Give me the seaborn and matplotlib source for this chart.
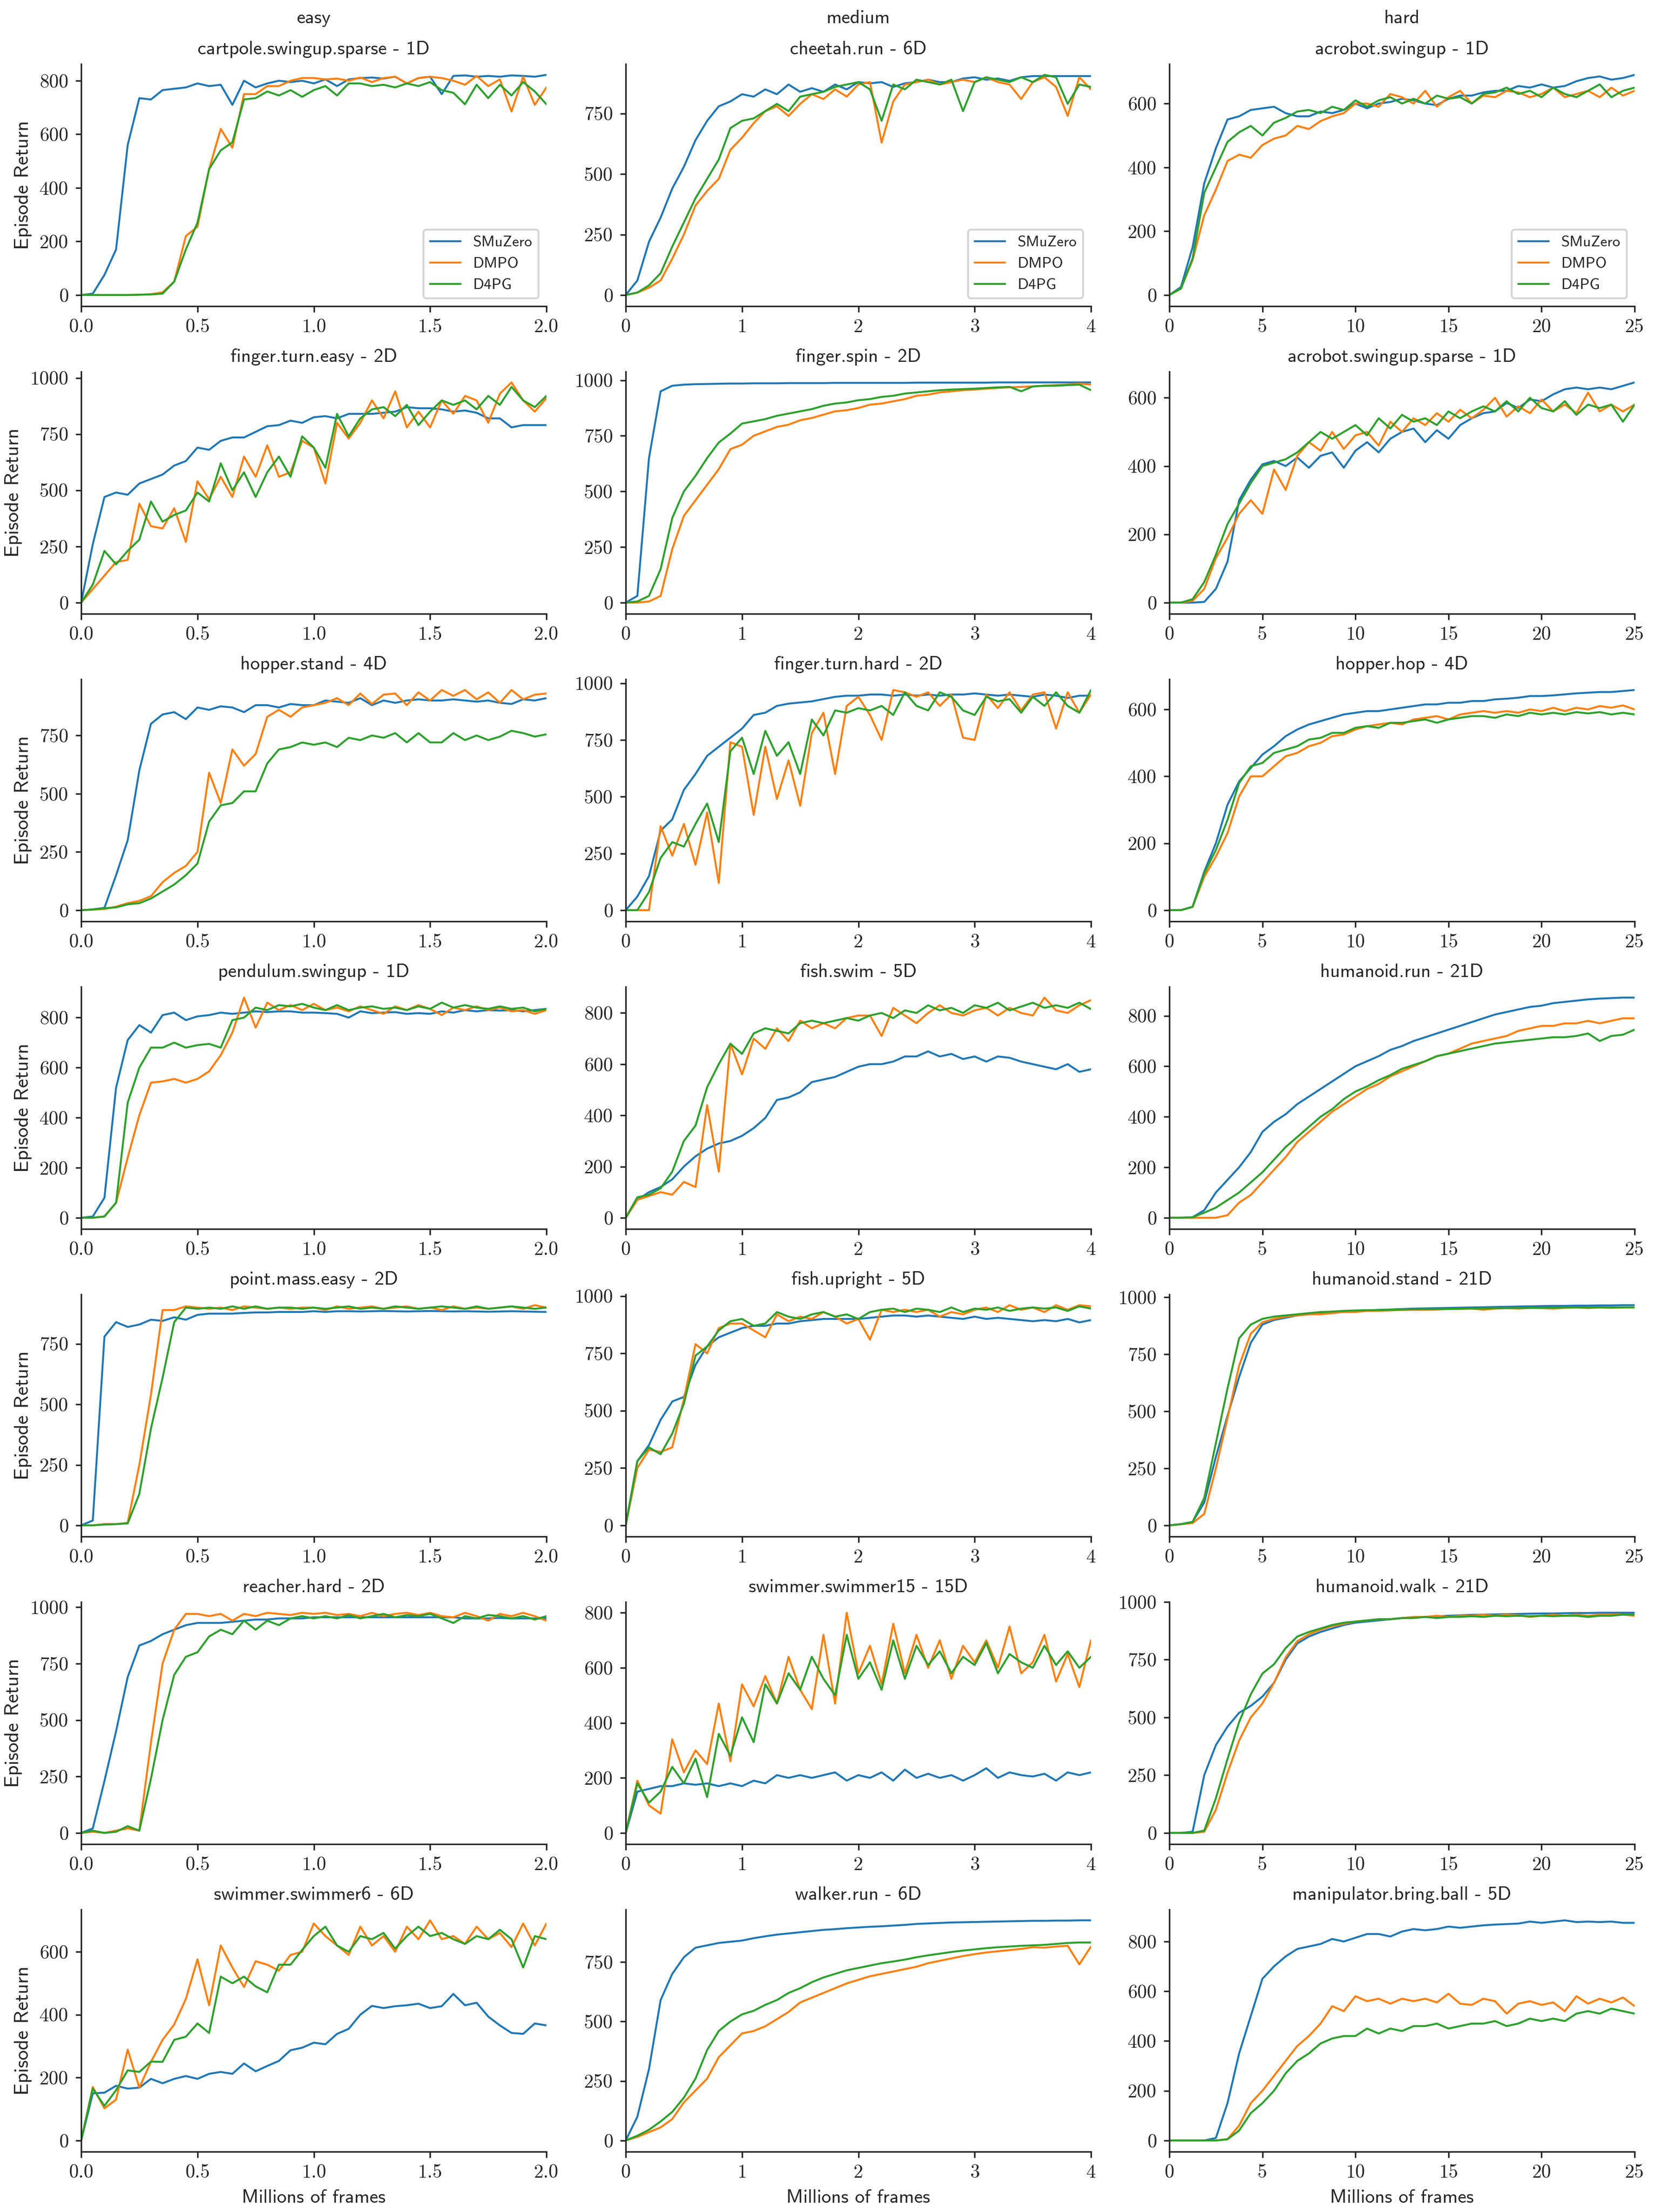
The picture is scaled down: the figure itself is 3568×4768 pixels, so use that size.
import numpy as np
import pandas as pd
import matplotlib
matplotlib.use("Agg")
import matplotlib.pyplot as plt
import seaborn as sns

# ---------------- data ----------------
METHODS = ["SMuZero", "DMPO", "D4PG"]
COLORS = ["#1f77b4", "#ff7f0e", "#2ca02c"]
COLUMN_NAMES = ["easy", "medium", "hard"]

X_EASY = np.linspace(0, 2, 41)      # millions of frames
X_MEDIUM = np.linspace(0, 4, 41)
X_HARD = np.linspace(0, 25, 41)

XTICKS_EASY = [0.0, 0.5, 1.0, 1.5, 2.0]
XTICKS_MEDIUM = [0, 1, 2, 3, 4]
XTICKS_HARD = [0, 5, 10, 15, 20, 25]

# row 1
cartpole_smuzero = [0,5,75,170,560,735,730,765,770,775,790,780,785,710,800,775,790,800,795,800,790,805,780,805,810,812,808,815,790,810,815,750,818,820,815,818,815,820,818,815,822]
cartpole_dmpo = [0,0,0,0,0,1,3,10,50,220,255,470,620,550,750,750,780,780,800,810,810,805,808,800,812,795,810,815,790,810,815,810,800,785,818,780,805,685,815,710,775]
cartpole_d4pg = [0,0,0,0,0,1,2,5,50,170,270,470,540,570,730,735,760,745,765,740,765,780,745,790,790,780,785,775,790,780,795,765,755,712,785,735,785,745,795,760,712]

cheetah_smuzero = [0,60,220,320,440,530,640,720,780,800,830,820,850,830,870,840,855,840,870,850,880,875,880,860,875,880,890,880,880,895,900,890,895,885,900,905,905,905,905,905,905]
cheetah_dmpo = [0,10,30,60,150,250,370,430,480,600,650,710,760,780,740,790,830,810,850,820,870,880,630,800,870,880,890,870,880,890,880,900,880,870,810,880,900,860,740,900,850]
cheetah_d4pg = [0,10,40,90,200,300,400,480,560,690,720,730,760,790,760,820,830,840,860,870,880,850,720,870,850,890,880,870,890,760,880,900,890,880,900,880,910,900,790,870,860]

acrobot_smuzero = [0,25,150,350,460,550,560,580,585,590,570,560,560,575,570,580,600,585,600,605,615,610,600,595,615,625,625,635,640,640,655,650,660,650,655,670,680,685,675,680,690]
acrobot_dmpo = [0,20,110,250,330,420,440,430,470,490,500,530,520,545,560,570,600,600,590,630,620,600,640,590,620,640,600,625,620,640,635,620,630,650,620,630,640,620,650,625,640]
acrobot_d4pg = [0,20,115,320,400,480,510,530,500,540,555,575,580,570,590,580,610,590,610,620,600,615,600,625,615,620,600,630,635,650,630,640,620,650,630,620,640,660,620,640,650]

# row 2
fteasy_smuzero = [0,260,470,490,480,530,550,570,610,630,690,680,720,735,735,760,785,790,810,800,825,830,820,840,840,840,845,850,870,865,865,860,850,855,845,820,820,780,790,790,790]
fteasy_dmpo = [0,60,120,180,190,440,340,330,420,270,540,460,560,470,650,560,700,560,580,720,690,530,800,730,800,900,820,940,780,850,780,900,840,920,900,800,930,980,900,850,910]
fteasy_d4pg = [0,80,230,170,230,280,450,360,390,410,490,450,620,500,580,470,580,650,560,740,690,600,840,740,820,860,870,830,880,790,850,900,880,900,860,920,880,960,900,870,920]

fspin_smuzero = [0,30,650,950,975,980,982,983,984,985,985,986,986,986,987,987,987,987,988,988,988,988,988,988,988,989,989,989,989,989,989,989,990,990,990,990,990,990,990,990,990]
fspin_dmpo = [0,0,5,30,240,390,460,530,600,690,710,750,770,790,800,820,830,845,860,865,875,890,895,905,915,930,935,945,950,955,958,962,965,968,970,972,975,978,980,985,980]
fspin_d4pg = [0,5,30,150,380,500,570,650,720,760,805,815,825,840,850,860,870,885,895,900,910,915,925,930,940,945,950,955,958,960,962,965,968,970,950,972,975,975,978,980,955]

acrosparse_smuzero = [0,0,0,2,40,120,300,360,405,415,400,425,395,430,440,395,445,470,440,480,500,510,470,505,480,520,540,555,560,585,570,595,590,610,625,630,625,630,625,635,645]
acrosparse_dmpo = [0,0,5,40,130,190,260,300,260,390,330,430,470,445,500,450,490,500,460,530,500,540,520,555,530,565,540,565,600,545,575,555,595,560,580,555,615,560,580,560,580]
acrosparse_d4pg = [0,0,10,60,140,230,290,350,400,410,420,440,470,500,480,500,520,490,540,510,550,530,540,520,560,540,560,575,560,590,560,600,570,560,590,550,580,570,580,530,580]

# row 3
hstand_smuzero = [0,3,10,150,300,600,800,840,850,820,870,860,875,870,850,880,880,870,885,880,880,900,895,890,910,880,900,890,900,905,900,900,905,900,895,900,890,885,905,900,910]
hstand_dmpo = [0,2,5,15,30,40,60,120,160,190,250,590,460,690,620,670,830,860,830,870,880,890,910,880,930,885,925,930,880,935,900,945,920,945,905,935,890,945,905,925,930]
hstand_d4pg = [0,3,8,12,25,30,50,80,110,150,200,380,450,460,510,510,630,690,700,720,710,720,700,740,730,750,740,760,720,760,720,720,760,730,750,730,745,770,760,745,755]

fthard_smuzero = [0,60,150,350,400,530,600,680,720,760,800,860,870,900,910,915,920,930,940,945,945,950,950,945,950,945,950,945,950,950,955,950,945,950,945,940,950,945,935,945,945]
fthard_dmpo = [0,0,0,370,240,380,200,430,120,740,720,420,720,490,660,460,780,870,600,900,940,860,750,970,960,940,960,900,950,760,750,950,890,960,880,950,960,800,960,870,950]
fthard_d4pg = [0,0,80,230,300,280,380,470,300,700,760,600,790,680,740,600,840,770,880,870,890,880,900,860,960,900,880,960,940,880,860,940,920,930,870,940,900,960,900,870,970]

hhop_smuzero = [0,0,10,115,200,315,385,425,465,490,520,540,555,565,575,585,590,595,595,600,605,610,615,615,620,620,625,625,630,632,635,640,640,642,645,648,650,652,652,655,658]
hhop_dmpo = [0,0,10,100,160,230,340,400,400,430,460,470,490,500,520,525,540,550,555,560,555,570,575,580,570,585,590,595,590,595,590,600,595,605,595,605,600,610,605,612,600]
hhop_d4pg = [0,0,10,110,180,270,380,430,440,470,480,490,510,515,530,530,545,550,545,560,560,565,570,560,570,575,580,580,575,585,580,590,585,590,585,592,588,592,585,590,585]

# row 4
pend_smuzero = [0,5,80,520,710,770,740,810,820,790,805,810,820,815,820,825,822,825,825,820,820,818,815,800,825,818,820,822,815,818,815,825,820,830,825,830,828,830,825,830,835]
pend_dmpo = [0,0,5,60,240,410,540,545,555,540,555,585,650,740,880,760,860,830,850,830,855,830,840,825,845,830,815,845,830,850,835,810,840,830,845,830,840,825,830,815,830]
pend_d4pg = [0,0,5,60,460,600,680,680,700,680,690,695,680,790,800,840,830,850,845,855,840,830,850,830,840,845,835,840,830,845,835,860,840,850,840,835,845,835,840,825,835]

fswim_smuzero = [0,70,100,120,150,200,240,270,290,300,320,350,390,460,470,490,530,540,550,570,590,600,600,610,630,630,650,630,640,620,630,610,630,625,610,600,590,580,600,570,580]
fswim_dmpo = [0,70,85,100,90,140,120,440,180,680,560,700,660,740,690,770,740,760,740,780,790,790,710,820,790,760,800,830,800,790,810,820,790,820,800,790,860,810,800,830,850]
fswim_d4pg = [0,80,90,115,180,300,360,510,600,680,640,720,740,730,720,760,770,760,770,780,770,790,800,780,810,800,830,810,820,800,830,820,840,810,825,840,820,830,820,840,815]

hrun_smuzero = [0,0,2,30,100,150,200,260,340,380,410,450,480,510,540,570,600,620,640,665,680,700,715,730,745,760,775,790,805,815,825,835,840,850,855,860,865,868,870,872,872]
hrun_dmpo = [0,0,0,0,0,10,60,90,140,190,240,300,340,380,420,450,480,510,530,560,580,600,620,640,650,670,690,700,710,720,740,750,760,760,770,770,780,770,780,790,790]
hrun_d4pg = [0,0,2,20,40,70,100,140,180,230,280,320,360,400,430,470,500,520,545,565,590,605,620,640,650,660,670,680,690,695,700,705,710,715,715,720,730,700,720,725,745]

# row 5
pmass_smuzero = [0,20,780,840,820,830,850,845,860,850,870,875,875,875,878,880,880,882,882,882,885,882,885,885,884,885,886,885,884,885,886,885,884,885,884,883,884,885,884,883,882]
pmass_dmpo = [0,0,5,5,10,250,540,890,890,905,900,895,900,890,905,900,895,900,895,900,900,890,905,895,900,905,895,900,905,895,900,890,905,895,900,895,900,905,895,910,900]
pmass_d4pg = [0,0,3,5,8,130,400,610,840,900,895,900,895,905,895,905,895,900,900,895,900,895,900,905,895,900,895,905,900,895,900,905,900,895,905,895,900,905,900,895,900]

fup_smuzero = [0,280,350,460,540,560,700,780,820,840,860,870,870,880,880,890,895,900,900,900,900,905,910,915,915,910,915,910,905,900,910,900,905,900,895,890,895,890,900,885,895]
fup_dmpo = [0,250,330,320,340,550,790,750,860,880,880,850,820,920,890,910,900,930,910,880,900,810,940,930,940,930,940,910,930,920,940,950,930,960,940,950,930,960,940,960,955]
fup_d4pg = [0,280,340,310,400,530,740,780,850,890,900,870,880,930,910,900,920,930,910,920,900,930,940,945,930,945,940,930,950,930,945,940,950,935,945,950,945,950,935,955,945]

hstand2_smuzero = [0,5,15,100,300,480,650,800,880,900,910,920,925,930,935,938,940,942,944,946,948,950,951,952,953,954,955,956,957,958,959,960,961,962,962,963,963,964,964,965,965]
hstand2_dmpo = [0,5,10,50,250,470,700,840,890,905,915,920,925,925,930,935,935,940,940,942,944,945,945,946,948,948,950,945,950,952,950,953,952,950,953,955,952,955,953,955,955]
hstand2_d4pg = [0,5,15,120,360,600,820,880,905,915,920,925,930,935,937,940,942,943,944,945,946,947,948,948,949,950,950,951,952,952,953,953,954,954,955,955,955,955,955,955,955]

# row 6
reacher_smuzero = [0,20,230,450,690,830,850,880,900,920,930,930,930,935,940,945,945,950,950,950,955,955,955,955,955,955,955,955,955,955,955,955,955,950,950,950,952,950,950,950,950]
reacher_dmpo = [0,5,0,10,20,10,400,750,900,970,970,960,970,940,970,960,975,970,965,975,970,975,965,970,960,975,960,970,975,965,975,960,955,975,960,940,970,960,975,960,940]
reacher_d4pg = [0,10,0,5,30,10,240,500,700,780,800,870,900,880,940,900,940,920,950,960,950,960,950,965,950,960,970,955,965,960,970,950,930,960,950,965,960,950,960,945,960]

sw15_smuzero = [0,150,160,170,170,180,175,180,170,180,170,190,180,210,200,210,200,210,220,190,210,200,220,190,230,200,215,200,210,190,210,235,200,220,210,205,215,190,220,210,220]
sw15_dmpo = [0,190,100,70,340,220,300,250,470,260,540,460,570,470,640,520,450,720,470,800,580,680,540,760,580,720,600,700,560,680,620,700,600,750,580,620,720,550,650,530,700]
sw15_d4pg = [0,180,110,150,240,180,270,130,360,280,420,330,540,470,580,520,640,560,500,720,560,620,520,700,560,680,610,660,580,640,610,690,580,650,620,600,680,610,660,600,640]

hwalk_smuzero = [0,0,5,250,380,460,520,550,590,650,750,820,850,870,885,900,910,915,920,925,930,932,935,937,940,942,944,945,946,947,948,949,950,950,951,952,952,953,953,953,953]
hwalk_dmpo = [0,0,0,5,100,260,400,500,560,650,760,830,860,880,895,905,915,920,925,925,930,935,935,940,935,940,940,945,940,945,942,935,940,945,940,945,940,945,945,945,940]
hwalk_d4pg = [0,0,0,10,150,320,480,600,690,730,800,850,870,885,900,910,915,920,925,925,930,930,935,930,935,935,938,935,940,938,940,938,940,938,940,940,935,940,940,945,945]

# row 7
sw6_smuzero = [0,150,152,174,165,168,196,182,196,205,196,212,218,212,245,220,237,253,287,295,311,306,339,355,400,428,421,427,430,435,421,427,466,430,438,394,366,342,339,372,366]
sw6_dmpo = [0,170,102,130,289,168,250,320,369,450,576,430,620,550,488,570,559,540,590,600,690,650,620,590,680,620,650,600,680,640,700,640,650,625,680,640,660,615,690,620,690]
sw6_d4pg = [0,165,110,160,223,218,251,250,320,330,372,342,521,500,521,490,471,559,559,606,650,680,620,600,650,640,660,610,650,680,650,660,640,625,650,640,670,640,550,650,640]

walker_smuzero = [0,100,300,590,700,770,810,820,830,835,840,850,858,865,870,875,880,885,888,892,895,898,900,903,906,910,912,914,916,917,918,919,920,921,922,923,923,924,924,925,925]
walker_dmpo = [0,15,35,55,90,160,210,260,350,400,450,460,480,510,540,580,600,620,640,660,675,690,700,710,720,730,745,755,765,775,783,790,795,800,805,812,810,815,818,740,815]
walker_d4pg = [0,20,45,80,120,180,260,380,460,500,530,545,570,590,620,640,665,685,700,715,725,735,745,752,760,770,778,785,792,798,803,808,812,815,818,820,822,826,830,832,832]

manip_smuzero = [0,0,0,0,10,150,350,500,650,700,740,770,780,790,810,800,815,830,830,820,840,850,845,850,860,855,860,865,868,870,872,880,875,880,885,878,880,878,880,875,875]
manip_dmpo = [0,0,0,0,0,5,60,150,200,260,320,380,420,470,540,520,580,560,570,550,570,560,570,555,590,550,545,570,560,510,550,560,545,555,520,580,550,570,555,575,540]
manip_d4pg = [0,0,0,0,0,5,40,110,150,200,270,320,350,390,410,420,420,450,430,450,440,460,460,470,450,460,470,470,480,460,470,490,480,490,480,510,520,510,530,520,510]

TITLES = [
    ["cartpole.swingup.sparse - 1D", "cheetah.run - 6D", "acrobot.swingup - 1D"],
    ["finger.turn.easy - 2D", "finger.spin - 2D", "acrobot.swingup.sparse - 1D"],
    ["hopper.stand - 4D", "finger.turn.hard - 2D", "hopper.hop - 4D"],
    ["pendulum.swingup - 1D", "fish.swim - 5D", "humanoid.run - 21D"],
    ["point.mass.easy - 2D", "fish.upright - 5D", "humanoid.stand - 21D"],
    ["reacher.hard - 2D", "swimmer.swimmer15 - 15D", "humanoid.walk - 21D"],
    ["swimmer.swimmer6 - 6D", "walker.run - 6D", "manipulator.bring.ball - 5D"],
]
SERIES = [
    [(cartpole_smuzero, cartpole_dmpo, cartpole_d4pg), (cheetah_smuzero, cheetah_dmpo, cheetah_d4pg), (acrobot_smuzero, acrobot_dmpo, acrobot_d4pg)],
    [(fteasy_smuzero, fteasy_dmpo, fteasy_d4pg), (fspin_smuzero, fspin_dmpo, fspin_d4pg), (acrosparse_smuzero, acrosparse_dmpo, acrosparse_d4pg)],
    [(hstand_smuzero, hstand_dmpo, hstand_d4pg), (fthard_smuzero, fthard_dmpo, fthard_d4pg), (hhop_smuzero, hhop_dmpo, hhop_d4pg)],
    [(pend_smuzero, pend_dmpo, pend_d4pg), (fswim_smuzero, fswim_dmpo, fswim_d4pg), (hrun_smuzero, hrun_dmpo, hrun_d4pg)],
    [(pmass_smuzero, pmass_dmpo, pmass_d4pg), (fup_smuzero, fup_dmpo, fup_d4pg), (hstand2_smuzero, hstand2_dmpo, hstand2_d4pg)],
    [(reacher_smuzero, reacher_dmpo, reacher_d4pg), (sw15_smuzero, sw15_dmpo, sw15_d4pg), (hwalk_smuzero, hwalk_dmpo, hwalk_d4pg)],
    [(sw6_smuzero, sw6_dmpo, sw6_d4pg), (walker_smuzero, walker_dmpo, walker_d4pg), (manip_smuzero, manip_dmpo, manip_d4pg)],
]
YTICKS = [
    [[0, 200, 400, 600, 800], [0, 250, 500, 750], [0, 200, 400, 600]],
    [[0, 250, 500, 750, 1000], [0, 250, 500, 750, 1000], [0, 200, 400, 600]],
    [[0, 250, 500, 750], [0, 250, 500, 750, 1000], [0, 200, 400, 600]],
    [[0, 200, 400, 600, 800], [0, 200, 400, 600, 800], [0, 200, 400, 600, 800]],
    [[0, 250, 500, 750], [0, 250, 500, 750, 1000], [0, 250, 500, 750, 1000]],
    [[0, 250, 500, 750, 1000], [0, 200, 400, 600, 800], [0, 250, 500, 750, 1000]],
    [[0, 200, 400, 600], [0, 250, 500, 750], [0, 200, 400, 600, 800]],
]
XGRIDS = [X_EASY, X_MEDIUM, X_HARD]
XTICKS = [XTICKS_EASY, XTICKS_MEDIUM, XTICKS_HARD]

# ---------------- style ----------------
sns.set_style("ticks")
plt.rcParams["font.family"] = ["cmss10", "DejaVu Sans"]
plt.rcParams["axes.unicode_minus"] = False
plt.rcParams["axes.linewidth"] = 0.8
plt.rcParams["xtick.major.size"] = 3
plt.rcParams["ytick.major.size"] = 3
plt.rcParams["xtick.major.width"] = 0.8
plt.rcParams["ytick.major.width"] = 0.8

SANS = ["cmss10", "DejaVu Sans"]
SERIF = ["cmr10", "DejaVu Serif"]
palette = dict(zip(METHODS, COLORS))

W, H = 3568, 4768
DPI = 300
fig = plt.figure(figsize=(W / DPI, H / DPI), dpi=DPI)

col_left = [175 / W, 1349 / W, 2521 / W]
ax_w = 1003 / W
ax_h = 522 / H
row_top0 = 137.6
row_pitch = 663.0

for c, name in enumerate(COLUMN_NAMES):
    fig.text(col_left[c] + ax_w / 2, 1 - 40 / H, name, ha="center", va="center",
             fontsize=10, family=SANS)

for r in range(7):
    for c in range(3):
        top_px = row_top0 + row_pitch * r
        bottom = 1 - (top_px + 522) / H
        ax = fig.add_axes([col_left[c], bottom, ax_w, ax_h])
        xs = XGRIDS[c]
        frames = []
        for m, ys in zip(METHODS, SERIES[r][c]):
            frames.append(pd.DataFrame({"frames": xs, "ret": ys, "method": m}))
        df = pd.concat(frames, ignore_index=True)
        sns.lineplot(data=df, x="frames", y="ret", hue="method", hue_order=METHODS,
                     palette=palette, estimator=None, linewidth=1.0, ax=ax,
                     legend=(r == 0))
        ax.set_xlim(0, xs[-1])
        ax.margins(y=0.05)
        xt = XTICKS[c]
        if c == 0:
            xl = [f"{v:.1f}" for v in xt]
        else:
            xl = [f"{v:g}" for v in xt]
        ax.set_xticks(xt, xl, fontfamily=SERIF, fontsize=10)
        yt = YTICKS[r][c]
        ax.set_yticks(yt, [f"{v:g}" for v in yt], fontfamily=SERIF, fontsize=10)
        ax.set_title(TITLES[r][c], fontsize=10, family=SANS, pad=5)
        ax.set_xlabel("Millions of frames" if r == 6 else "", fontsize=10, family=SANS)
        if c == 0:
            ax.set_ylabel("Episode Return", fontsize=10.5, family=SANS)
        else:
            ax.set_ylabel("")
        if r == 0:
            h, l = ax.get_legend_handles_labels()
            ax.legend(h, l, loc="lower right", prop={"family": SANS, "size": 8},
                      frameon=True)
        sns.despine(ax=ax)

fig.savefig("out.png", dpi=DPI)
